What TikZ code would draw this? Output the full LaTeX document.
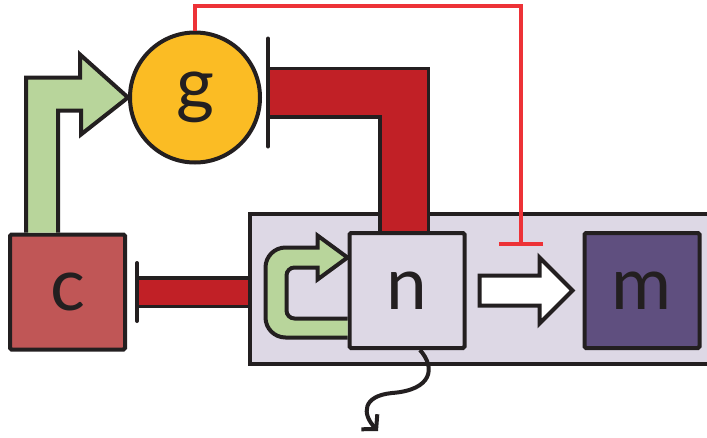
\documentclass[tikz,border=0pt]{standalone}
\usepackage{fontspec}
\setmainfont{Lato}
\usepackage{tikz}
\usetikzlibrary{arrows.meta, positioning}
\definecolor{ink}{RGB}{35,31,32}
\definecolor{gold}{RGB}{251,188,36}
\definecolor{barred}{RGB}{193,32,38}
\definecolor{brick}{RGB}{192,86,86}
\definecolor{leaf}{RGB}{184,213,155}
\definecolor{lilac}{RGB}{221,216,229}
\definecolor{plum}{RGB}{95,79,127}
\definecolor{signal}{RGB}{237,50,55}

\begin{document}
\begin{tikzpicture}[
    x=1pt, y=-1pt,
    box/.style = {
        rectangle, rounded corners=1.5pt, draw=ink, line width=4pt,
        minimum width=115pt, minimum height=115pt, inner sep=0pt,
        text=ink, font=\fontsize{73}{73}\selectfont
    },
    gene/.style    = {circle, draw=ink, line width=4pt, fill=gold,
                      minimum size=130pt, inner sep=0pt,
                      text=ink, font=\fontsize{73}{73}\selectfont},
    cell/.style    = {rectangle, draw=ink, line width=4pt, fill=lilac,
                      minimum width=500pt, minimum height=150pt},
    redbar/.style  = {draw=ink, line width=3.5pt, double=barred, double distance=25pt},
    tbar/.style    = {ink, line width=4pt, line cap=round},
    block/.style   = {draw=ink, line width=4pt, line join=miter},
    inhibit/.style = {signal, line width=4pt, -{Bar[width=44pt, line width=4pt]}},
    wiggle/.style  = {ink, line width=4pt, -{Straight Barb[length=10pt, width=22pt]}},
]
\useasboundingbox (0,0) rectangle (707,437);

% --- kotak sel dan node ---
\node[cell] (cellbox) at (500,289) {};
\node[box, fill=brick] (c) at (67.5,292) {c};
\node[gene] (g) at (195,97.5) {g};

% --- c menghambat n ---
\coordinate (cstop) at ([xshift=10pt]c.east);
\draw[redbar] (cellbox.west |- cstop) -- (cstop);
\draw[tbar] ([yshift=29pt]cstop) -- ([yshift=-29pt]cstop);

\node[box, fill=lilac] (n) at (407,290.5) {n};
\node[box, fill=plum]  (m) at (642,290.5) {m};

% --- n menghambat g ---
\coordinate (gstop) at ([xshift=6pt, yshift=5pt]g.east);
\draw[redbar, double distance=45pt] ([xshift=-3pt]n.north) |- (gstop);
\draw[tbar] ([yshift=54pt]gstop) -- ([yshift=-54pt]gstop);

% --- c mengaktifkan g ---
\draw[block, fill=leaf] ([xshift=18pt]c.north west) -- ++(0,-155) -- ++(54,0)
    -- ++(0,-23) -- (g.west) -- ++(-47,37) -- ++(0,-24) -- ++(-23,0)
    -- ([xshift=50pt]c.north west);

% --- umpan balik n ---
\draw[block, fill=leaf] ([yshift=-47pt]n.west)
    [rounded corners=20pt] -- ++(-82,0) -- ++(0,-90)
    [sharp corners] -- ++(52,0) -- ++(0,-12) -- ([yshift=33pt]n.west)
    -- ++(-30,22) -- ++(0,-12) [rounded corners=8pt] -- ++(-31,0)
    -- ++(0,51) [sharp corners] -- ++(61,0);

% --- n ke m ---
\draw[block, fill=white] ([xshift=13pt]n.east) -- ++(0,-15) -- ++(60,0)
    -- ++(0,-18) -- ++(33,33) -- ++(-33,33) -- ++(0,-18) -- ++(-60,0) -- cycle;

% --- g menghambat panah n ke m ---
\coordinate (gate) at (521,246);
\draw[inhibit] (g.north) -- ++(0,-25) -| (gate);

% --- keluaran n ---
\coordinate (drift) at (378,431);
\draw[wiggle] ([xshift=13pt]n.south) .. controls (436,368) and (432,390) .. (392,393)
    .. controls (362,396) and (362,414) .. (drift);

\end{tikzpicture}
\end{document}
